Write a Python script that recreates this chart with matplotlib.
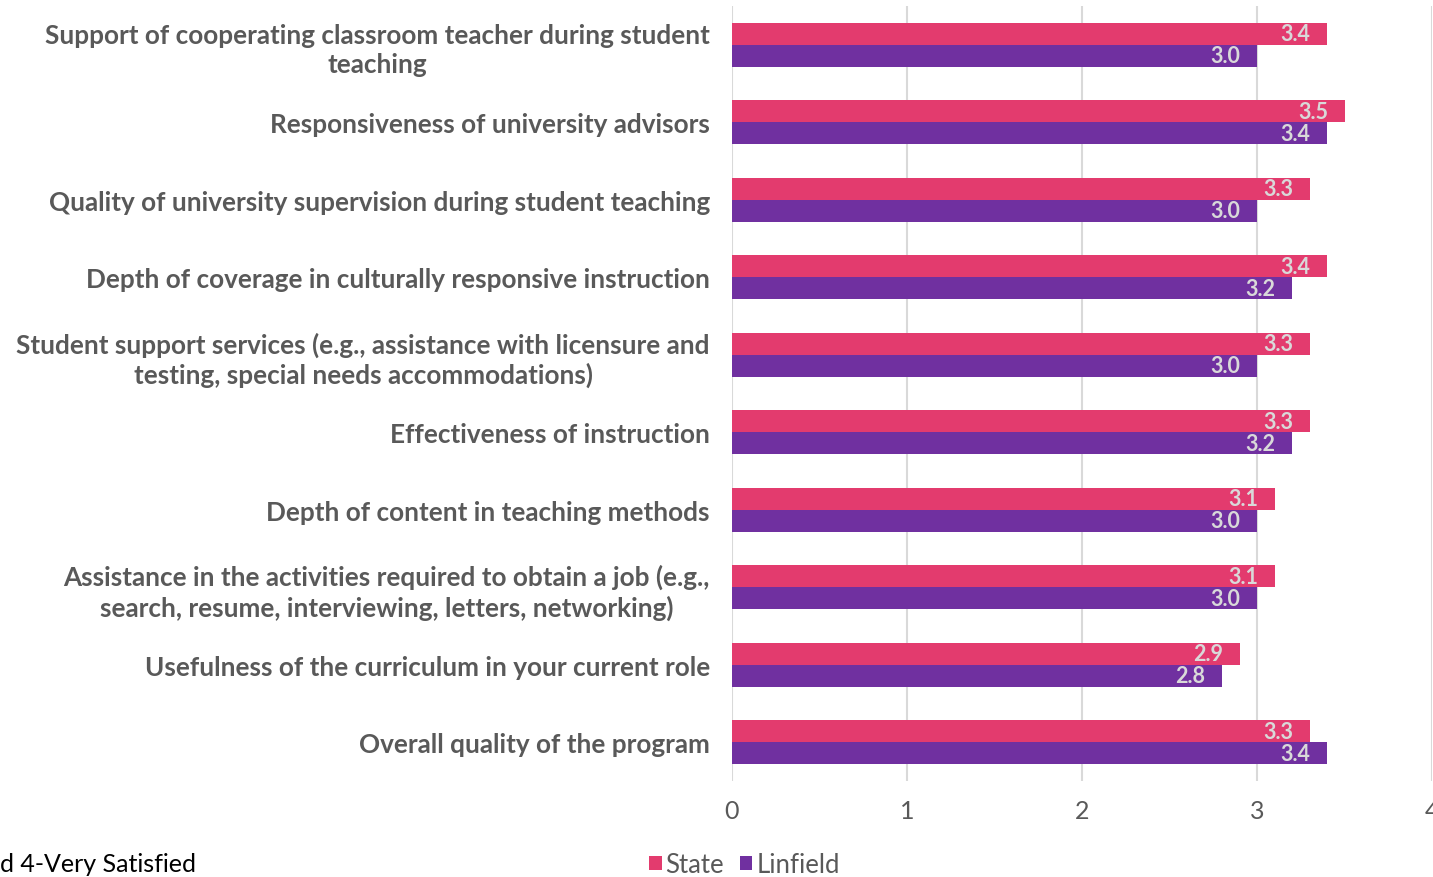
import numpy as np
import matplotlib.pyplot as plt

# data
categories = [
    "Support of cooperating classroom teacher during student\nteaching",
    "Responsiveness of university advisors",
    "Quality of university supervision during student teaching",
    "Depth of coverage in culturally responsive instruction",
    "Student support services (e.g., assistance with licensure and\ntesting, special needs accommodations)",
    "Effectiveness of instruction",
    "Depth of content in teaching methods",
    "Assistance in the activities required to obtain a job (e.g.,\nsearch, resume, interviewing, letters, networking)",
    "Usefulness of the curriculum in your current role",
    "Overall quality of the program",
]
state = [3.4, 3.5, 3.3, 3.4, 3.3, 3.3, 3.1, 3.1, 2.9, 3.3]
linfield = [3.0, 3.4, 3.0, 3.2, 3.0, 3.2, 3.0, 3.0, 2.8, 3.4]
x_ticks = [0, 1, 2, 3, 4]

state_color = "#E33B6E"
linfield_color = "#7030A0"
text_grey = "#595959"

plt.rcParams['font.family'] = ['Lato', 'DejaVu Sans']

fig = plt.figure(figsize=(14.33, 8.78), dpi=100)
ax = fig.add_axes([732 / 1433, 1 - 782 / 878, 700 / 1433, 775 / 878])

y = np.arange(len(categories))
h = 0.285
b1 = ax.barh(y - h / 2, state, height=h, color=state_color, label="State", zorder=3)
b2 = ax.barh(y + h / 2, linfield, height=h, color=linfield_color, label="Linfield", zorder=3)

# value labels inside bar ends
for yy, vals in ((y - h / 2, state), (y + h / 2, linfield)):
    for yi, v in zip(yy, vals):
        ax.annotate(f"{v:.1f}", (v, yi), xytext=(-12, 0), textcoords="offset points",
                    ha="right", va="center", color="#D9D9D9", fontsize=15.5,
                    fontweight="bold", zorder=4)

ax.set_xlim(0, 4)
ax.set_ylim(len(categories) - 0.5, -0.5)
ax.set_xticks(x_ticks)
ax.set_xticklabels([str(t) for t in x_ticks], fontsize=18, color=text_grey)
ax.set_yticks(y)
ax.set_yticklabels(categories, fontsize=18.8, color=text_grey, fontweight="bold",
                   multialignment="center", linespacing=1.25)
ax.tick_params(axis="both", length=0)
ax.tick_params(axis="y", pad=16)
ax.tick_params(axis="x", pad=13)
ax.grid(axis="x", color="#D9D9D9", linewidth=1.5, zorder=0)
for s in ax.spines.values():
    s.set_visible(False)

ax.legend(loc="lower left", bbox_to_anchor=(636 / 1433, -13 / 878), bbox_transform=fig.transFigure,
          ncol=2, frameon=False, fontsize=18.5, labelcolor=text_grey, handlelength=0.5,
          handleheight=0.5, handletextpad=0.15, columnspacing=0.6, borderpad=0)

fig.text(0, 13 / 878, "d 4-Very Satisfied", fontsize=18, color="#000000",
         ha="left", va="center")

fig.savefig("out.png", dpi=100)
